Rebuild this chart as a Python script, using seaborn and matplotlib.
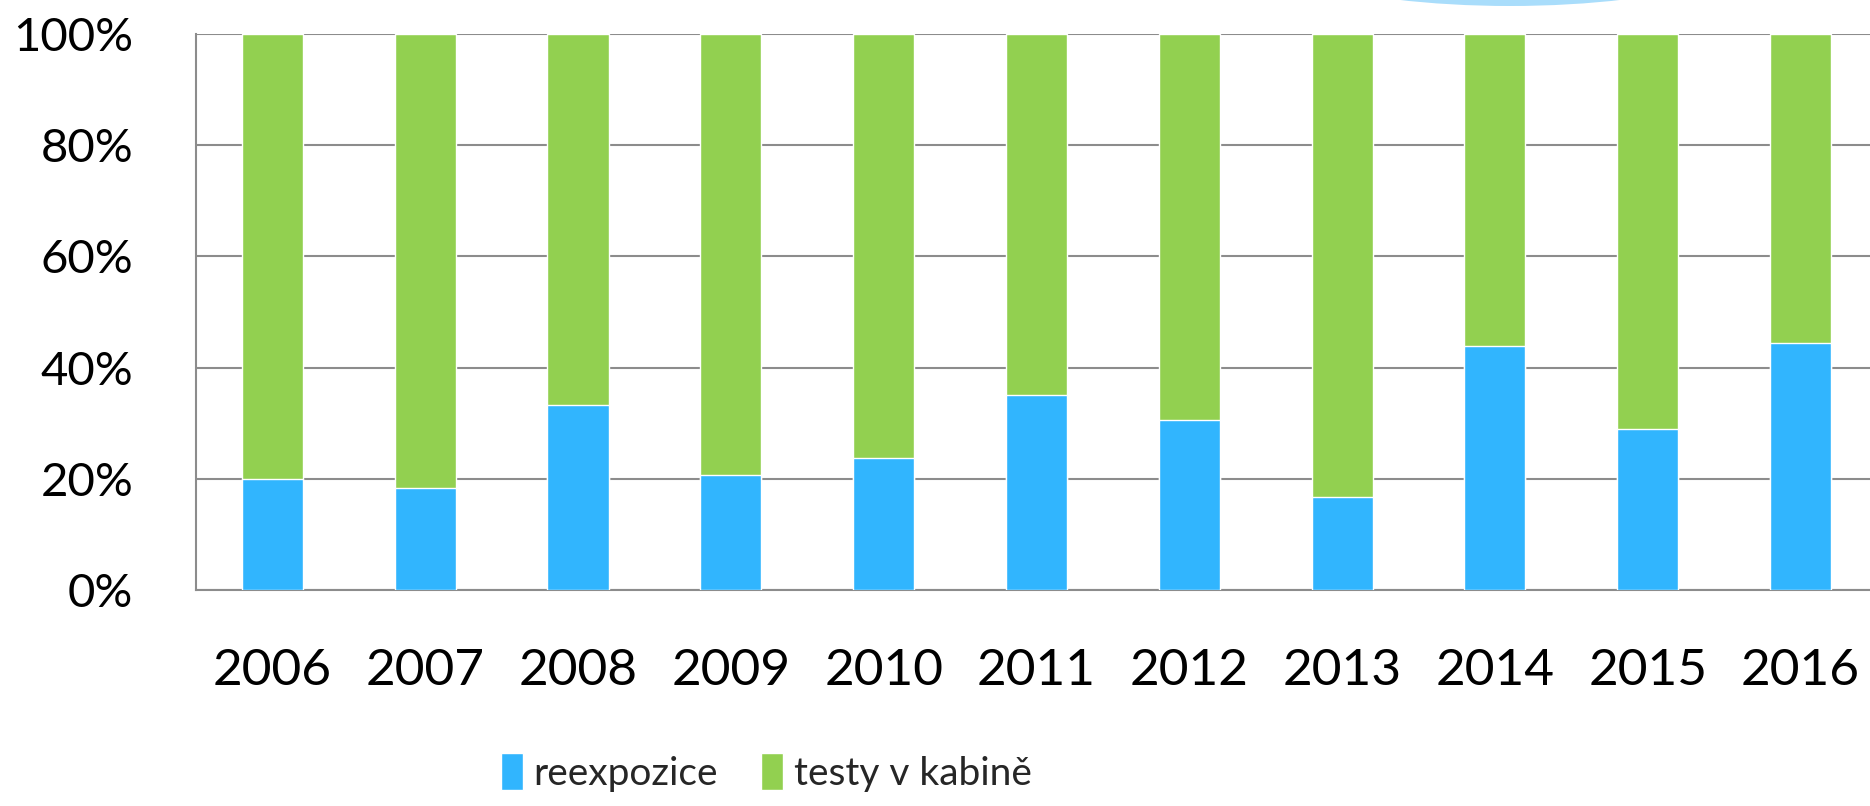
import matplotlib

matplotlib.use("Agg")
import matplotlib.pyplot as plt
import pandas as pd
import seaborn as sns
from matplotlib.patches import Ellipse, Patch
from matplotlib.ticker import MultipleLocator, PercentFormatter

# share of each method per year
years = ["2006", "2007", "2008", "2009", "2010", "2011",
         "2012", "2013", "2014", "2015", "2016"]
reexpozice = [0.200, 0.184, 0.332, 0.207, 0.237, 0.351,
              0.306, 0.167, 0.439, 0.290, 0.444]
testy_v_kabine = [0.800, 0.816, 0.668, 0.793, 0.763, 0.649,
                  0.694, 0.833, 0.561, 0.710, 0.556]

BLUE = "#31B5FE"
GREEN = "#92D050"
GRID = "#8C8C8C"

df = pd.DataFrame({"rok": years, "reexpozice": reexpozice, "testy": testy_v_kabine})
df["celkem"] = df["reexpozice"] + df["testy"]

sns.set_theme(style="white")
plt.rcParams["font.family"] = ["Lato", "DejaVu Sans"]

fig = plt.figure(figsize=(18.7, 8.06), dpi=100)
ax = fig.add_axes([0.1048, 0.268, 0.8989, 0.6898])

# stacked: full bar in green, blue part drawn over it
sns.barplot(data=df, x="rok", y="celkem", color=GREEN, width=0.4,
            saturation=1, ax=ax, zorder=2)
sns.barplot(data=df, x="rok", y="reexpozice", color=BLUE, width=0.4,
            saturation=1, ax=ax, zorder=3)

ax.set_xlim(-0.5, len(years) - 0.5)
ax.set_ylim(0, 1)
ax.yaxis.set_major_locator(MultipleLocator(0.2))
ax.yaxis.set_major_formatter(PercentFormatter(1.0, decimals=0))
ax.grid(axis="y", color=GRID, linewidth=1.5, zorder=0)
ax.set_axisbelow(True)
ax.set_xlabel("")
ax.set_ylabel("")

for side in ["top", "right"]:
    ax.spines[side].set_visible(False)
for side in ["left", "bottom"]:
    ax.spines[side].set_color(GRID)
    ax.spines[side].set_linewidth(1.5)

ax.tick_params(axis="y", length=15, width=1.5, color=GRID, direction="out",
               labelsize=34, pad=30, labelcolor="black")
ax.tick_params(axis="x", which="major", length=0, labelsize=37, pad=42,
               labelcolor="black")
ax.set_xticks([i - 0.5 for i in range(len(years) + 1)], minor=True)
ax.tick_params(axis="x", which="minor", length=15, width=1.5, color=GRID,
               direction="out")

handles = [Patch(facecolor=BLUE, label="reexpozice"),
           Patch(facecolor=GREEN, label="testy v kabině")]
fig.legend(handles=handles, loc="center", bbox_to_anchor=(0.4096, 0.042),
           ncol=2, frameon=False, prop={"size": 28},
           handlelength=0.57, handleheight=1.12, handletextpad=0.26,
           columnspacing=1.13, borderpad=0)

# light blue decoration peeking in at the top edge
fig.add_artist(Ellipse((15.1, 8.86), 6.0, 1.72, transform=fig.dpi_scale_trans,
                       facecolor="#A9DDFB", edgecolor="none", clip_on=False))

fig.savefig("out.png", dpi=100)
